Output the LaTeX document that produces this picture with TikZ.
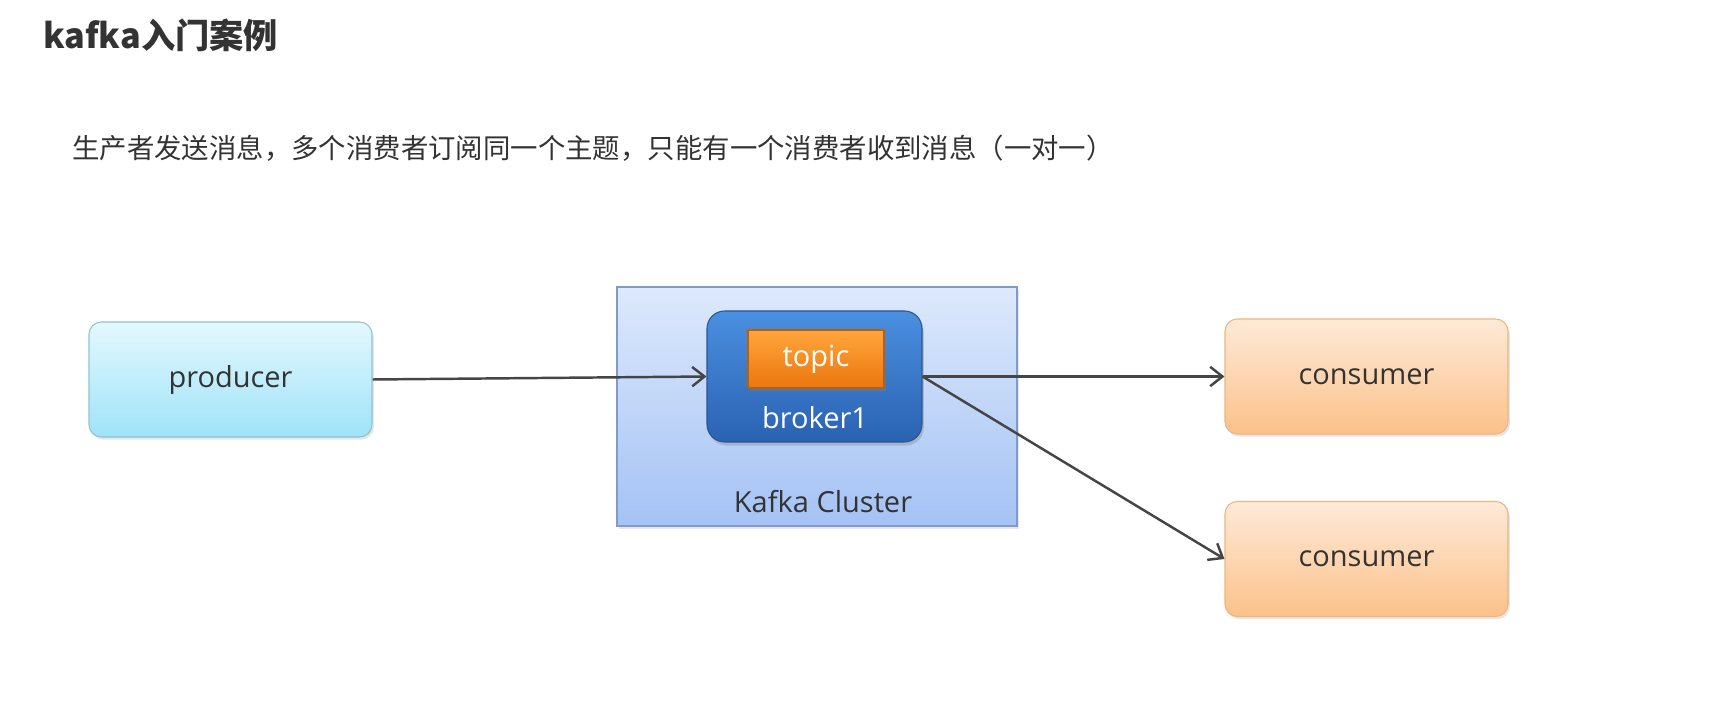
\documentclass[tikz,border=0pt]{standalone}
\usepackage{fontspec}
\setmainfont{Open Sans}
\newfontfamily\cjk{Noto Sans CJK SC}
\usetikzlibrary{arrows.meta,shadows}
\definecolor{textgray}{HTML}{333333}
\definecolor{linegray}{HTML}{454545}
\definecolor{prodtop}{HTML}{E4F8FE}
\definecolor{prodbot}{HTML}{9FE3F8}
\definecolor{prodline}{HTML}{8FC3D3}
\definecolor{constop}{HTML}{FEEAD8}
\definecolor{consbot}{HTML}{FBC18A}
\definecolor{consline}{HTML}{EDB57C}
\definecolor{clustertop}{HTML}{DDE9FC}
\definecolor{clusterbot}{HTML}{A4C2F4}
\definecolor{clusterline}{HTML}{7E9CCB}
\definecolor{brokertop}{HTML}{4A8FE0}
\definecolor{brokerbot}{HTML}{2B62B2}
\definecolor{brokerline}{HTML}{2A5590}
\definecolor{topictop}{HTML}{FFA63C}
\definecolor{topicbot}{HTML}{EB760E}
\definecolor{topicline}{HTML}{B8600F}
\begin{document}
\begin{tikzpicture}[x=0.02cm, y=-0.02cm,
    box/.style={rounded corners=7pt, draw, line width=0.6pt, minimum width=283*0.02cm, minimum height=115*0.02cm,
        font=\fontsize{16.5}{18}\selectfont, text=textgray,
        drop shadow={opacity=0.2, shadow xshift=1pt, shadow yshift=-1.5pt}},
    prodbox/.style={box, draw=prodline, top color=prodtop, bottom color=prodbot},
    consbox/.style={box, draw=consline, top color=constop, bottom color=consbot},
    link/.style={-{Straight Barb[length=7pt, width=11pt, line width=1.4pt]}, linegray, line width=1.4pt}]
    \useasboundingbox (0,0) rectangle (1722,709);
    % Title
    \node[anchor=west, text=textgray, font=\cjk\bfseries\fontsize{19.5}{22}\selectfont] (title) at (37,35) {kafka入门案例};
    \node[anchor=west, text=textgray, font=\cjk\fontsize{15.6}{17}\selectfont] (subtitle) at (66,148)
        {生产者发送消息，多个消费者订阅同一个主题，只能有一个消费者收到消息（一对一）};
    % Kafka cluster
    \node[draw=clusterline, line width=0.6pt, top color=clustertop, bottom color=clusterbot,
        minimum width=400*0.02cm, minimum height=239*0.02cm,
        drop shadow={opacity=0.2, shadow xshift=1pt, shadow yshift=-1.5pt}] (cluster) at (817,406.5) {};
    \node[text=textgray, font=\fontsize{16.5}{18}\selectfont] (clusterlabel) at (823,502) {Kafka Cluster};
    \node[rounded corners=10pt, draw=brokerline, line width=0.6pt, top color=brokertop, bottom color=brokerbot,
        minimum width=215*0.02cm, minimum height=131*0.02cm,
        drop shadow={opacity=0.35, shadow xshift=1pt, shadow yshift=-2pt}] (broker) at (814.5,376.5) {};
    \node[draw=topicline, line width=0.6pt, top color=topictop, bottom color=topicbot,
        minimum width=136*0.02cm, minimum height=58*0.02cm, text=white, font=\fontsize{16.5}{18}\selectfont,
        drop shadow={opacity=0.3, shadow xshift=1pt, shadow yshift=-1.5pt}] (topic) at (816,359) {topic};
    \node[text=white, font=\fontsize{16.5}{18}\selectfont] (brokerlabel) at (815,418) {broker1};
    % Producer and consumers
    \node[prodbox] (producer) at (230.5,379.5) {producer};
    \node[consbox] (consumerA) at (1366.5,376.5) {consumer};
    \node[consbox] (consumerB) at (1366.5,559) {consumer};
    % Messages
    \draw[link] (producer.east) -- (broker.west);
    \draw[link] (broker.east) -- (consumerA.west);
    \draw[link] (broker.east) -- (consumerB.west);
\end{tikzpicture}
\end{document}
